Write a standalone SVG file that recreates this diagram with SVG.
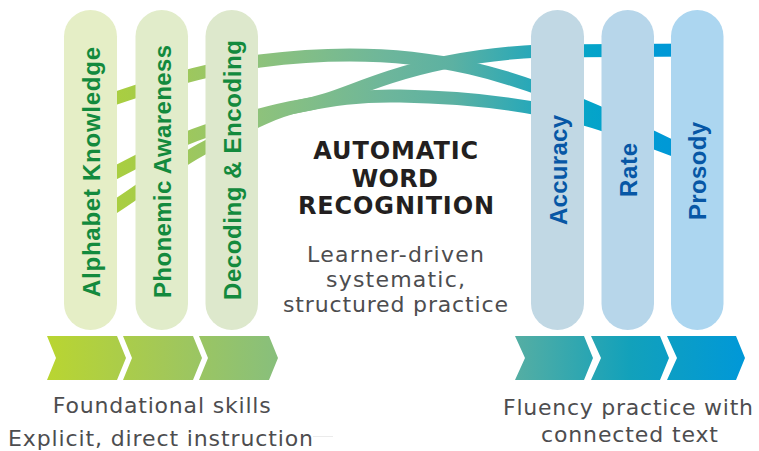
<svg xmlns="http://www.w3.org/2000/svg" width="759" height="451" viewBox="0 0 759 451">
<defs>
<linearGradient id="rib" gradientUnits="userSpaceOnUse" x1="64" y1="0" x2="723" y2="0">
<stop offset="0" stop-color="#b2d235"/>
<stop offset="0.1" stop-color="#a7cd44"/>
<stop offset="0.2" stop-color="#9cc760"/>
<stop offset="0.3" stop-color="#8dc27c"/>
<stop offset="0.49" stop-color="#6db69b"/>
<stop offset="0.59" stop-color="#5cb1a2"/>
<stop offset="0.71" stop-color="#27a8b9"/>
<stop offset="0.8" stop-color="#04a4c9"/>
<stop offset="0.91" stop-color="#0099d6"/>
<stop offset="1" stop-color="#0096d8"/>
</linearGradient>
<linearGradient id="chl" gradientUnits="userSpaceOnUse" x1="47" y1="0" x2="278" y2="0">
<stop offset="0" stop-color="#b9d531"/>
<stop offset="0.5" stop-color="#a3c857"/>
<stop offset="1" stop-color="#88bf7c"/>
</linearGradient>
<linearGradient id="chr" gradientUnits="userSpaceOnUse" x1="515" y1="0" x2="745" y2="0">
<stop offset="0" stop-color="#55aea3"/>
<stop offset="0.5" stop-color="#12a1bb"/>
<stop offset="1" stop-color="#0098d8"/>
</linearGradient>
<style>
.pl{font-family:"Liberation Sans",Arial,sans-serif;font-weight:700;font-size:24px;text-anchor:middle}
.g{fill:#138a3d}
.b{fill:#0757a5}
.ttl{font-family:"DejaVu Sans",sans-serif;font-weight:700;font-size:24px;fill:#231f20;text-anchor:middle}
.bd{font-family:"DejaVu Sans",sans-serif;font-size:22px;fill:#4d4d4f;text-anchor:middle}
.rib{fill:none;stroke:url(#rib);stroke-width:13}
</style>
</defs>
<rect width="759" height="451" fill="#ffffff"/>
<g id="connectors">
<path class="rib" d="M90,107 C150,86 200,70 260,61 C330,52 400,52 470,68 C540,84 620,120 705,163"/>
<path class="rib" d="M90,186 C130,165 170,143 206,131 C240,120 270,111 300,106 C330,101 350,90 390,77 C430,64 480,54 540,51 L700,50"/>
<path class="rib" d="M90,222 C130,200 170,165 206,147 C240,130 270,112 300,106 C330,100 360,95 400,96 C460,97 520,102 584,119 C620,129 660,145 700,160"/>
</g>
<g id="node-alphabet-knowledge">
<rect x="64" y="10" width="53" height="320" rx="26.5" fill="#e5eec6"/>
<text class="pl g" transform="translate(99.5,172) rotate(-90)" textLength="250">Alphabet Knowledge</text>
</g>
<g id="node-phonemic-awareness">
<rect x="135.5" y="10" width="52.5" height="320" rx="26.25" fill="#e1ecca"/>
<text class="pl g" transform="translate(170.5,171.5) rotate(-90)" textLength="253">Phonemic Awareness</text>
</g>
<g id="node-decoding-encoding">
<rect x="205.5" y="10" width="52.5" height="320" rx="26.25" fill="#dde8cc"/>
<text class="pl g" transform="translate(240.5,170) rotate(-90)" textLength="260">Decoding &amp; Encoding</text>
</g>
<g id="node-accuracy">
<rect x="531" y="10" width="53" height="320" rx="26.5" fill="#c1d8e4"/>
<text class="pl b" transform="translate(566.5,170) rotate(-90)" textLength="110">Accuracy</text>
</g>
<g id="node-rate">
<rect x="601.5" y="10" width="52.5" height="320" rx="26.25" fill="#b7d6ea"/>
<text class="pl b" transform="translate(636.5,170) rotate(-90)" textLength="54">Rate</text>
</g>
<g id="node-prosody">
<rect x="671" y="10" width="52.5" height="320" rx="26.25" fill="#acd6f0"/>
<text class="pl b" transform="translate(705.5,171) rotate(-90)" textLength="98">Prosody</text>
</g>
<g id="node-center">
<text class="ttl" x="395.7" y="159.3" textLength="165">AUTOMATIC</text>
<text class="ttl" x="394.8" y="186.7" textLength="86">WORD</text>
<text class="ttl" x="396" y="213.5" textLength="196">RECOGNITION</text>
<text class="bd" x="395.5" y="261.5" textLength="177">Learner-driven</text>
<text class="bd" x="395.5" y="286.5" textLength="139">systematic,</text>
<text class="bd" x="395.5" y="312" textLength="225">structured practice</text>
</g>
<g id="node-chevrons-left" fill="url(#chl)">
<polygon points="47,336 117,336 126,358 117,380 47,380 56,358"/>
<polygon points="123,336 193,336 202,358 193,380 123,380 132,358"/>
<polygon points="199,336 269,336 278,358 269,380 199,380 208,358"/>
</g>
<g id="node-chevrons-right" fill="url(#chr)">
<polygon points="515,336 584,336 593,358 584,380 515,380 525,358"/>
<polygon points="591,336 660,336 669,358 660,380 591,380 601,358"/>
<polygon points="667,336 736,336 745,358 736,380 667,380 677,358"/>
</g>
<g id="node-foundational">
<text class="bd" x="161.7" y="413" textLength="218">Foundational skills</text>
<text class="bd" x="160.5" y="446" textLength="305">Explicit, direct instruction</text>
<line x1="313" y1="436.5" x2="333" y2="436.5" stroke="#ebebeb" stroke-width="1"/>
</g>
<g id="node-fluency">
<text class="bd" x="628" y="414.5" textLength="250">Fluency practice with</text>
<text class="bd" x="629.5" y="441.5" textLength="177">connected text</text>
</g>
</svg>
